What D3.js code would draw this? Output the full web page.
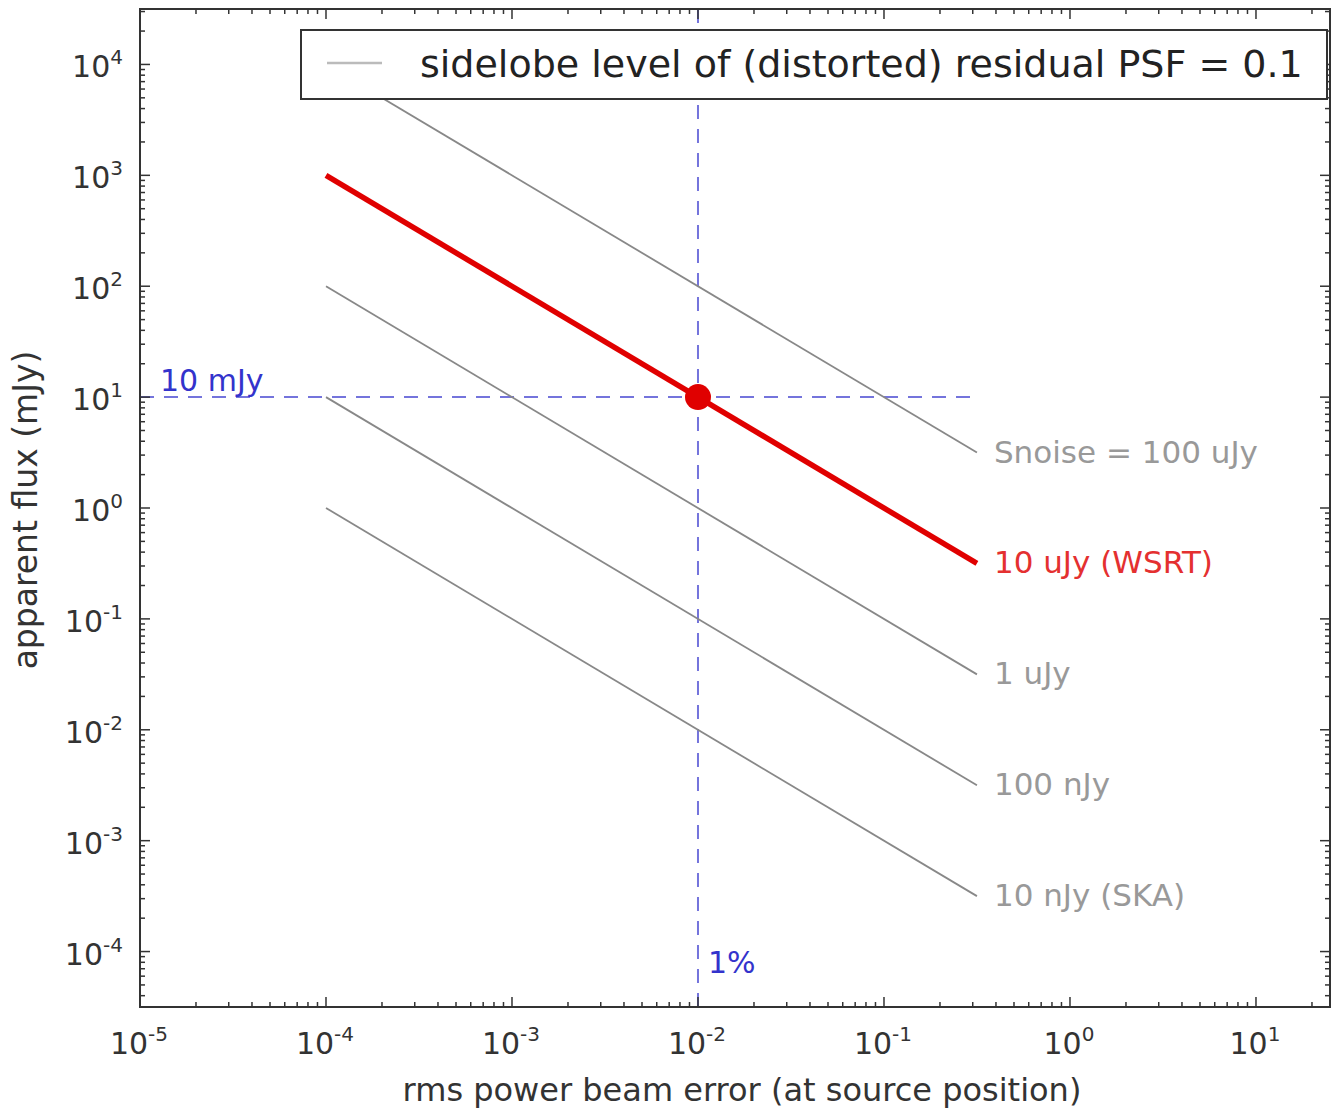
<!DOCTYPE html>
<html>
<head>
<meta charset="utf-8">
<script src="https://cdn.jsdelivr.net/npm/d3@7"></script>
<style>
  body { margin: 0; background: #fff; }
  svg { display: block; font-family: "DejaVu Sans", sans-serif; }
</style>
</head>
<body>
<div id="chart"></div>
<script>
// line labels, one per noise level
const noiseLabels = ["Snoise = 100 uJy", "10 uJy (WSRT)", "1 uJy", "100 nJy", "10 nJy (SKA)"];
// beam error at start and end of every line
const errRange = [1e-4, 0.316];
// apparent flux (mJy) at start and end of every line
const fluxStart = [1e4, 1e3, 1e2, 1e1, 1e0];
const fluxEnd = [3.16, 0.316, 0.0316, 0.00316, 0.000316];
// 1% / 10 mJy reference
const refErr = 0.01;
const refFlux = 10;
const xTickExp = [-5, -4, -3, -2, -1, 0, 1];
const yTickExp = [-4, -3, -2, -1, 0, 1, 2, 3, 4];
const legendText = "sidelobe level of (distorted) residual PSF = 0.1";

const W = 1332, H = 1110;
const pLeft = 140, pRight = 1330, pTop = 9, pBottom = 1007;

const svg = d3.select("#chart").append("svg")
    .attr("width", W)
    .attr("height", H);

const x = d3.scaleLog().domain([1e-5, 25]).range([pLeft, pRight]);
const y = d3.scaleLog().domain([Math.pow(10, -4.5), Math.pow(10, 4.5)]).range([pBottom, pTop]);

svg.append("defs").append("clipPath").attr("id", "plot")
    .append("rect")
    .attr("x", pLeft).attr("y", pTop)
    .attr("width", pRight - pLeft).attr("height", pBottom - pTop);

const plot = svg.append("g").attr("clip-path", "url(#plot)");

// blue reference lines
plot.append("line")
    .attr("x1", x(1e-5)).attr("x2", x(errRange[1]))
    .attr("y1", y(refFlux)).attr("y2", y(refFlux))
    .attr("stroke", "#7474dc").attr("stroke-width", 2)
    .attr("stroke-dasharray", "14,10");
plot.append("line")
    .attr("x1", x(refErr)).attr("x2", x(refErr))
    .attr("y1", pTop).attr("y2", pBottom)
    .attr("stroke", "#7474dc").attr("stroke-width", 2)
    .attr("stroke-dasharray", "14,10");

// noise lines
const lines = noiseLabels.map((name, i) => ({
    name: name,
    pts: [[errRange[0], fluxStart[i]], [errRange[1], fluxEnd[i]]]
}));

const lineGen = d3.line().x(d => x(d[0])).y(d => y(d[1]));

plot.selectAll("path.noise")
    .data(lines)
    .enter()
    .append("path")
    .attr("class", "noise")
    .attr("d", d => lineGen(d.pts))
    .attr("fill", "none")
    .attr("stroke", (d, i) => i == 1 ? "#e00000" : "#888")
    .attr("stroke-width", (d, i) => i == 1 ? 5.5 : 1.8);

plot.append("circle")
    .attr("cx", x(refErr)).attr("cy", y(refFlux))
    .attr("r", 13)
    .attr("fill", "#e00000");

// line labels
svg.selectAll("text.lbl")
    .data(lines)
    .enter()
    .append("text")
    .attr("class", "lbl")
    .attr("x", x(errRange[1]) + 17)
    .attr("y", d => y(d.pts[1][1]) + 10)
    .attr("font-size", 31)
    .attr("fill", (d, i) => i == 1 ? "#e43030" : "#999")
    .text(d => d.name);

svg.append("text")
    .attr("x", 160).attr("y", y(refFlux) - 6)
    .attr("font-size", 30).attr("fill", "#3333cc")
    .text("10 mJy");
svg.append("text")
    .attr("x", x(refErr) + 10).attr("y", 973)
    .attr("font-size", 30).attr("fill", "#3333cc")
    .text("1%");

// frame
svg.append("rect")
    .attr("x", pLeft).attr("y", pTop)
    .attr("width", pRight - pLeft).attr("height", pBottom - pTop)
    .attr("fill", "none").attr("stroke", "#333").attr("stroke-width", 2);

// ticks (inward, all sides)
function logTicks(scale, lo, hi) {
    const out = [];
    const d = scale.domain();
    for (let e = lo; e <= hi; e++) {
        for (let m = 1; m < 10; m++) {
            const v = m * Math.pow(10, e);
            if (v >= d[0] && v <= d[1]) out.push({v: v, major: m == 1});
        }
    }
    return out;
}
const xt = logTicks(x, -5, 1);
const yt = logTicks(y, -5, 4);
const tg = svg.append("g").attr("stroke", "#333").attr("stroke-width", 1.5);
xt.forEach(t => {
    const len = t.major ? 10 : 5;
    tg.append("line").attr("x1", x(t.v)).attr("x2", x(t.v)).attr("y1", pBottom).attr("y2", pBottom - len);
    tg.append("line").attr("x1", x(t.v)).attr("x2", x(t.v)).attr("y1", pTop).attr("y2", pTop + len);
});
yt.forEach(t => {
    const len = t.major ? 10 : 5;
    tg.append("line").attr("y1", y(t.v)).attr("y2", y(t.v)).attr("x1", pLeft).attr("x2", pLeft + len);
    tg.append("line").attr("y1", y(t.v)).attr("y2", y(t.v)).attr("x1", pRight).attr("x2", pRight - len);
});

// tick labels
function powLabel(sel, e) {
    sel.append("tspan").text("10");
    sel.append("tspan").attr("dy", -13).attr("font-size", 20).text(e < 0 ? "-" + (-e) : e);
}
xTickExp.forEach(e => {
    const t = svg.append("text")
        .attr("x", x(Math.pow(10, e)) - 1).attr("y", 1054)
        .attr("text-anchor", "middle")
        .attr("font-size", 30).attr("fill", "#333");
    powLabel(t, e);
});
yTickExp.forEach(e => {
    const t = svg.append("text")
        .attr("x", 123).attr("y", y(Math.pow(10, e)) + 13)
        .attr("text-anchor", "end")
        .attr("font-size", 30).attr("fill", "#333");
    powLabel(t, e);
});

// axis titles
svg.append("text")
    .attr("x", (pLeft + pRight) / 2 + 7).attr("y", 1101)
    .attr("text-anchor", "middle")
    .attr("font-size", 32).attr("fill", "#333")
    .text("rms power beam error (at source position)");
svg.append("text")
    .attr("transform", `translate(37,${(pTop + pBottom) / 2 + 2}) rotate(-90)`)
    .attr("text-anchor", "middle")
    .attr("font-size", 33).attr("fill", "#333")
    .text("apparent flux (mJy)");

// legend
const lg = svg.append("g");
lg.append("rect")
    .attr("x", 301).attr("y", 30)
    .attr("width", 1026).attr("height", 69)
    .attr("fill", "#fff").attr("stroke", "#333").attr("stroke-width", 2);
lg.append("line")
    .attr("x1", 327).attr("x2", 382).attr("y1", 63).attr("y2", 63)
    .attr("stroke", "#bbb").attr("stroke-width", 2.5);
lg.append("text")
    .attr("x", 420).attr("y", 77)
    .attr("font-size", 38).attr("fill", "#222")
    .text(legendText);
</script>
</body>
</html>
